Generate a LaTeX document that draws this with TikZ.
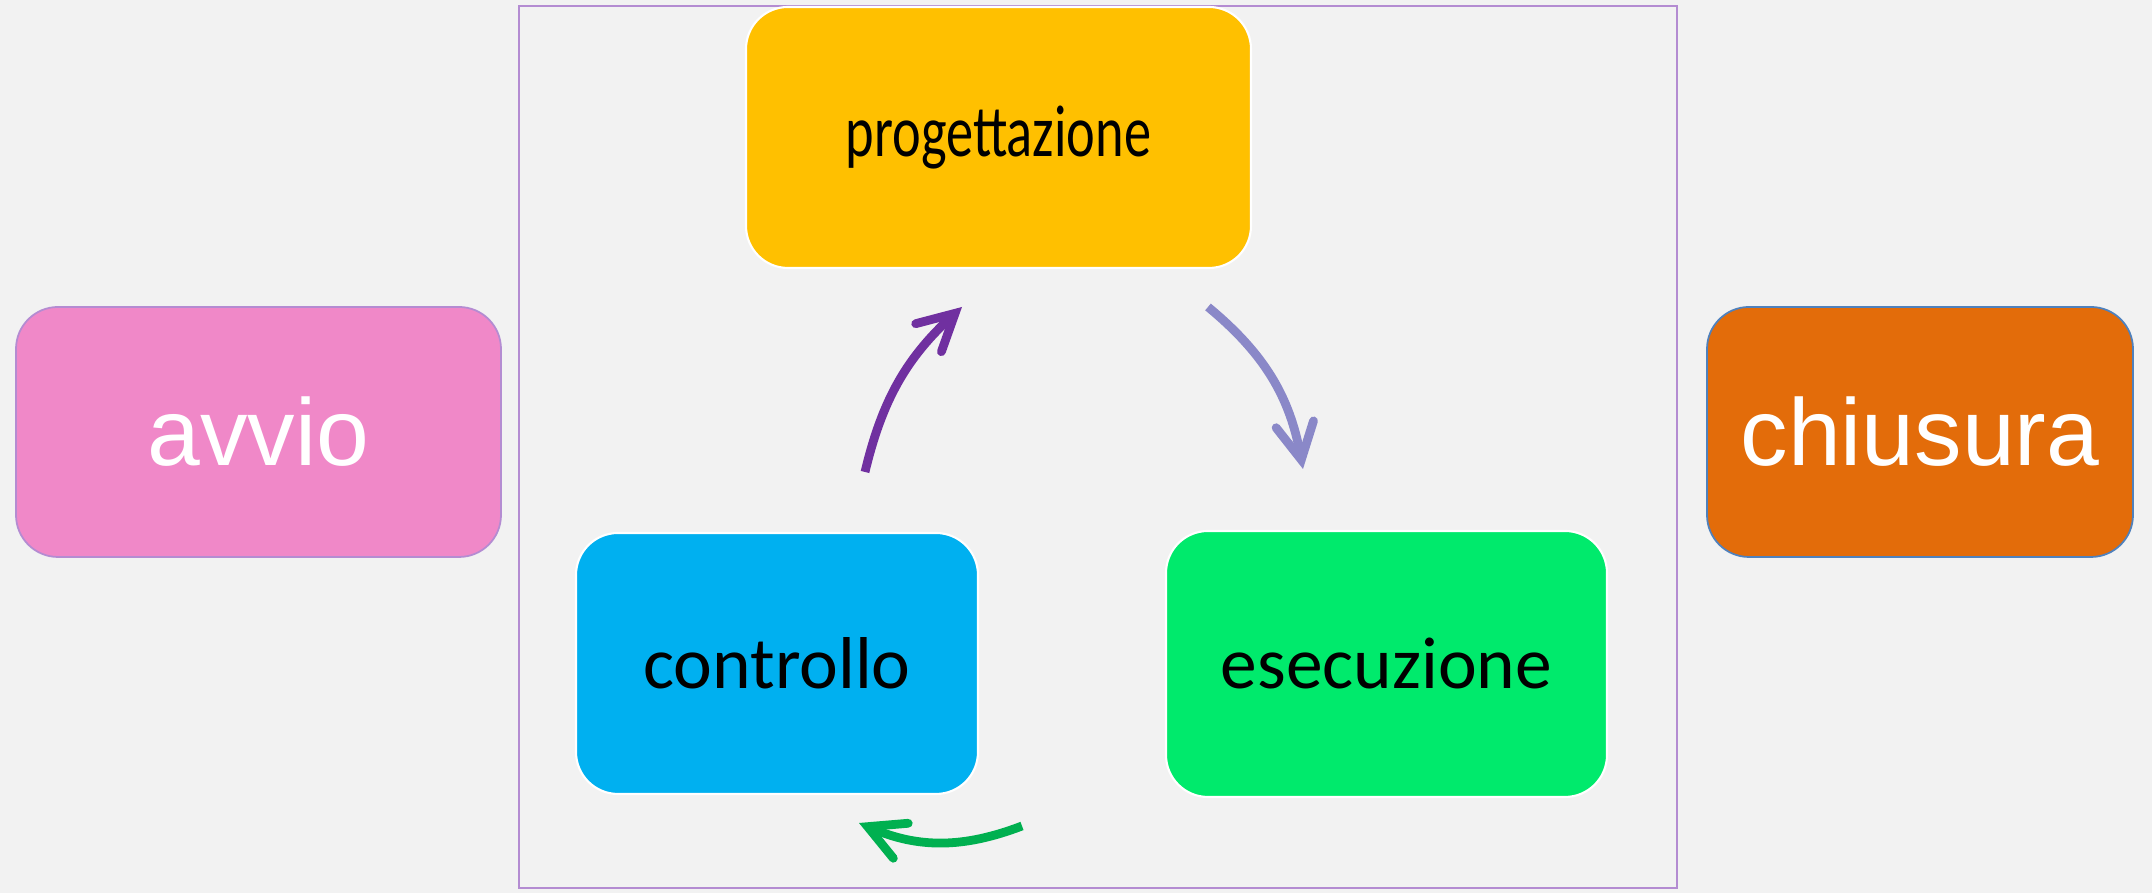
\documentclass[tikz,border=0pt]{standalone}
\usepackage{fontspec}
\setmainfont{Carlito}
\newfontfamily\arialfont{Liberation Sans}
\usetikzlibrary{positioning, arrows.meta}
\usepackage{xcolor}
\definecolor{sfondo}{HTML}{F2F2F2}
\definecolor{cornice}{HTML}{B48CD2}
\definecolor{giallo}{HTML}{FFC000}
\definecolor{rosa}{HTML}{F088C8}
\definecolor{arancio}{HTML}{E36C0A}
\definecolor{azzurro}{HTML}{00B0F0}
\definecolor{verde}{HTML}{00EA6C}
\definecolor{viola}{HTML}{7030A0}
\definecolor{lavanda}{HTML}{8A88C8}
\definecolor{verdescuro}{HTML}{00B050}
\definecolor{bordoblu}{HTML}{4F81BD}
\tikzset{fase/.style={rectangle, rounded corners=0.42cm, draw=white, line width=0.6pt,
                      inner sep=0pt, font=\fontsize{20.9}{25}\selectfont},
         estremo/.style={fase, text=white, line width=0.5pt,
                         font=\arialfont\fontsize{27}{32}\selectfont},
         freccia/.style={line width=2.5pt,
                         -{Straight Barb[length=0.36cm, width=0.38cm, line width=2.5pt, line cap=round, line join=miter]}}}

\begin{document}
\begin{tikzpicture}

        % Background and frame
        \fill[sfondo] (0, 0) rectangle (21.52, 8.93);
        \useasboundingbox (0, 0) rectangle (21.52, 8.93);
        \draw[cornice, line width=0.5pt] (5.19, 0.05) rectangle (16.77, 8.87);

        % Nodes for the cycle
        \node[fase, fill=giallo, minimum width=5.05cm, minimum height=2.61cm] (prog) at (9.985, 7.555) {\scalebox{0.74}[1]{progettazione}};
        \node[fase, fill=azzurro, minimum width=4.02cm, minimum height=2.61cm] (contr) at (7.77, 2.295) {controllo};
        \node[fase, fill=verde, minimum width=4.41cm, minimum height=2.66cm] (esec) at (13.865, 2.29) {esecuzione};

        % Nodes for start and end
        \node[estremo, fill=rosa, draw=cornice, minimum width=4.85cm, minimum height=2.5cm] (avvio) at (2.585, 4.61) {avvio};
        \node[estremo, fill=arancio, draw=bordoblu, minimum width=4.26cm, minimum height=2.5cm] (chius) at (19.2, 4.61) {chiusura};

        % Ends of the arrows
        \coordinate (a1) at (8.65, 4.21);
        \coordinate (b1) at (9.62, 5.86);
        \coordinate (a2) at (12.08, 5.86);
        \coordinate (b2) at (13.03, 4.24);
        \coordinate (a3) at (10.22, 0.67);
        \coordinate (b3) at (8.59, 0.70);

        % Curved arrows between the phases
        \draw[freccia, viola] (a1) to[bend left=17] (b1);  % controllo to progettazione
        \draw[freccia, lavanda] (a2) to[bend left=20] (b2);  % progettazione to esecuzione
        \draw[freccia, verdescuro] (a3) to[bend left=22] (b3);  % esecuzione to controllo

\end{tikzpicture}
\end{document}
